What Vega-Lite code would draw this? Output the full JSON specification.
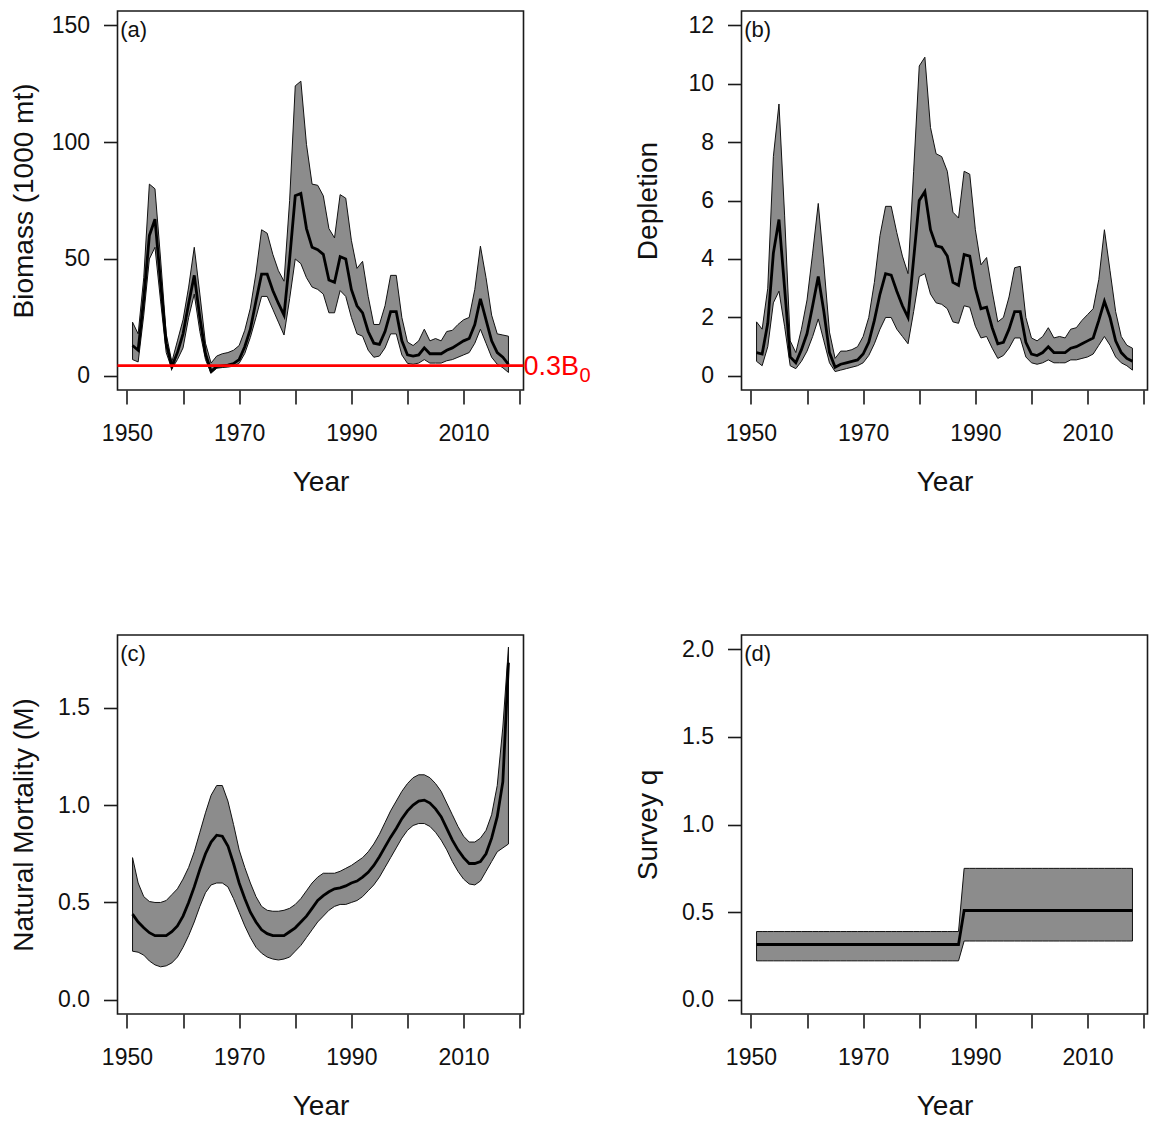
{
  "$schema": "https://vega.github.io/schema/vega-lite/v6.json",
  "background": "white",
  "padding": {"left": 9.5, "top": 10, "right": 5, "bottom": 5},
  "bounds": "flush",
  "columns": 2,
  "spacing": {"row": 245, "column": 218},
  "config": {
    "font": "Liberation Sans",
    "view": {"stroke": "#1a1a1a", "strokeWidth": 1.6},
    "axis": {"grid": false, "domain": false, "tickColor": "#1a1a1a", "tickWidth": 1.6, "tickSize": 14,
      "labelFont": "Liberation Sans", "labelFontSize": 23, "labelColor": "#111",
      "titleFont": "Liberation Sans", "titleFontSize": 28, "titleFontWeight": "normal", "titleColor": "#111"},
    "axisX": {"labelPadding": 18, "labelFlush": false, "labelOverlap": false, "titleY": 92, "titleBaseline": "middle"},
    "axisY": {"labelPadding": 14, "titleX": -93, "titleBaseline": "middle", "labelOverlap": false}
  },
  "datasets": {
    "a": [
      {"yr":1951,"lo":7,"med":13,"hi":23},{"yr":1952,"lo":6,"med":11,"hi":18},{"yr":1953,"lo":26,"med":33,"hi":42},
      {"yr":1954,"lo":50,"med":60,"hi":82},{"yr":1955,"lo":55,"med":67,"hi":80},{"yr":1956,"lo":32,"med":40,"hi":50},
      {"yr":1957,"lo":10,"med":14,"hi":18},{"yr":1958,"lo":3,"med":4,"hi":6},{"yr":1959,"lo":7,"med":10,"hi":15},
      {"yr":1960,"lo":12,"med":18,"hi":24},{"yr":1961,"lo":25,"med":31,"hi":38},{"yr":1962,"lo":35,"med":43,"hi":55},
      {"yr":1963,"lo":19,"med":25,"hi":35},{"yr":1964,"lo":7,"med":9.5,"hi":14},{"yr":1965,"lo":1.2,"med":2,"hi":5.5},
      {"yr":1966,"lo":3.3,"med":4,"hi":8.5},{"yr":1967,"lo":3.6,"med":4.3,"hi":9.5},{"yr":1968,"lo":3.8,"med":4.6,"hi":10},
      {"yr":1969,"lo":4.2,"med":5.3,"hi":11},{"yr":1970,"lo":5.4,"med":7,"hi":13},{"yr":1971,"lo":9.6,"med":12.5,"hi":19.5},
      {"yr":1972,"lo":16.5,"med":20,"hi":29},{"yr":1973,"lo":25,"med":32,"hi":44},{"yr":1974,"lo":34,"med":43.5,"hi":62.5},
      {"yr":1975,"lo":34,"med":43.5,"hi":61},{"yr":1976,"lo":28.5,"med":36.5,"hi":52},{"yr":1977,"lo":23,"med":31,"hi":45},
      {"yr":1978,"lo":17.5,"med":26,"hi":40.5},{"yr":1979,"lo":33,"med":50,"hi":75},{"yr":1980,"lo":50,"med":77,"hi":124},
      {"yr":1981,"lo":48,"med":78,"hi":126},{"yr":1982,"lo":42,"med":63,"hi":99},{"yr":1983,"lo":38,"med":55,"hi":82},
      {"yr":1984,"lo":37,"med":54,"hi":81.5},{"yr":1985,"lo":35,"med":52,"hi":77},{"yr":1986,"lo":27,"med":41,"hi":63},
      {"yr":1987,"lo":27,"med":40,"hi":59},{"yr":1988,"lo":36.5,"med":51,"hi":77.5},{"yr":1989,"lo":34,"med":50,"hi":76},
      {"yr":1990,"lo":25,"med":37,"hi":58},{"yr":1991,"lo":18,"med":30,"hi":46},{"yr":1992,"lo":17,"med":27,"hi":49},
      {"yr":1993,"lo":11,"med":19,"hi":34},{"yr":1994,"lo":8,"med":14,"hi":22},{"yr":1995,"lo":8.5,"med":13.5,"hi":22},
      {"yr":1996,"lo":12,"med":19,"hi":30},{"yr":1997,"lo":18,"med":27.5,"hi":43},{"yr":1998,"lo":18,"med":27.5,"hi":43},
      {"yr":1999,"lo":9,"med":15,"hi":25},{"yr":2000,"lo":5.4,"med":9,"hi":14.5},{"yr":2001,"lo":5,"med":8.5,"hi":13},
      {"yr":2002,"lo":5.5,"med":9,"hi":15},{"yr":2003,"lo":7,"med":12,"hi":20},{"yr":2004,"lo":5.5,"med":9.5,"hi":15},
      {"yr":2005,"lo":5.5,"med":9.5,"hi":16},{"yr":2006,"lo":5.5,"med":9.5,"hi":15},{"yr":2007,"lo":6.5,"med":11,"hi":19},
      {"yr":2008,"lo":7,"med":12,"hi":19.5},{"yr":2009,"lo":8,"med":13.5,"hi":22},{"yr":2010,"lo":9,"med":15,"hi":24},
      {"yr":2011,"lo":10,"med":16,"hi":25},{"yr":2012,"lo":14,"med":22,"hi":37},{"yr":2013,"lo":20,"med":33,"hi":55.5},
      {"yr":2014,"lo":14,"med":24,"hi":42},{"yr":2015,"lo":8,"med":15,"hi":26},{"yr":2016,"lo":5,"med":10,"hi":18},
      {"yr":2017,"lo":3.5,"med":8,"hi":17.5},{"yr":2018,"lo":1.5,"med":5,"hi":17}
    ],
    "b": [
      {"yr":1951,"lo":0.5,"med":0.8,"hi":1.85},{"yr":1952,"lo":0.35,"med":0.75,"hi":1.6},{"yr":1953,"lo":1.0,"med":1.8,"hi":3.0},
      {"yr":1954,"lo":2.5,"med":4.2,"hi":7.5},{"yr":1955,"lo":2.9,"med":5.35,"hi":9.3},{"yr":1956,"lo":1.7,"med":3.0,"hi":5.5},
      {"yr":1957,"lo":0.35,"med":0.65,"hi":1.2},{"yr":1958,"lo":0.25,"med":0.45,"hi":0.8},{"yr":1959,"lo":0.5,"med":0.9,"hi":1.6},
      {"yr":1960,"lo":0.85,"med":1.45,"hi":2.6},{"yr":1961,"lo":1.35,"med":2.4,"hi":4.2},{"yr":1962,"lo":1.95,"med":3.4,"hi":5.9},
      {"yr":1963,"lo":1.2,"med":2.2,"hi":3.8},{"yr":1964,"lo":0.45,"med":0.8,"hi":1.5},{"yr":1965,"lo":0.15,"med":0.3,"hi":0.6},
      {"yr":1966,"lo":0.2,"med":0.4,"hi":0.85},{"yr":1967,"lo":0.25,"med":0.45,"hi":0.85},{"yr":1968,"lo":0.3,"med":0.5,"hi":0.9},
      {"yr":1969,"lo":0.35,"med":0.55,"hi":1.0},{"yr":1970,"lo":0.45,"med":0.75,"hi":1.35},{"yr":1971,"lo":0.7,"med":1.15,"hi":2.0},
      {"yr":1972,"lo":1.1,"med":1.9,"hi":3.2},{"yr":1973,"lo":1.6,"med":2.8,"hi":4.8},{"yr":1974,"lo":2.0,"med":3.5,"hi":5.8},
      {"yr":1975,"lo":2.0,"med":3.45,"hi":5.8},{"yr":1976,"lo":1.6,"med":2.9,"hi":4.9},{"yr":1977,"lo":1.35,"med":2.4,"hi":4.1},
      {"yr":1978,"lo":1.1,"med":2.0,"hi":3.5},{"yr":1979,"lo":2.2,"med":4.0,"hi":7.0},{"yr":1980,"lo":3.4,"med":6.0,"hi":10.6},
      {"yr":1981,"lo":3.5,"med":6.3,"hi":10.9},{"yr":1982,"lo":2.8,"med":5.0,"hi":8.5},{"yr":1983,"lo":2.5,"med":4.45,"hi":7.6},
      {"yr":1984,"lo":2.45,"med":4.4,"hi":7.5},{"yr":1985,"lo":2.3,"med":4.1,"hi":7.0},{"yr":1986,"lo":1.85,"med":3.2,"hi":5.6},
      {"yr":1987,"lo":1.8,"med":3.1,"hi":5.4},{"yr":1988,"lo":2.4,"med":4.15,"hi":7.0},{"yr":1989,"lo":2.35,"med":4.1,"hi":6.9},
      {"yr":1990,"lo":1.7,"med":3.0,"hi":5.0},{"yr":1991,"lo":1.3,"med":2.3,"hi":3.8},{"yr":1992,"lo":1.35,"med":2.35,"hi":4.05},
      {"yr":1993,"lo":0.95,"med":1.65,"hi":2.9},{"yr":1994,"lo":0.6,"med":1.1,"hi":1.85},{"yr":1995,"lo":0.7,"med":1.15,"hi":2.0},
      {"yr":1996,"lo":0.95,"med":1.6,"hi":2.7},{"yr":1997,"lo":1.3,"med":2.2,"hi":3.7},{"yr":1998,"lo":1.3,"med":2.2,"hi":3.75},
      {"yr":1999,"lo":0.65,"med":1.15,"hi":2.0},{"yr":2000,"lo":0.45,"med":0.75,"hi":1.3},{"yr":2001,"lo":0.4,"med":0.7,"hi":1.2},
      {"yr":2002,"lo":0.45,"med":0.8,"hi":1.35},{"yr":2003,"lo":0.55,"med":1.0,"hi":1.65},{"yr":2004,"lo":0.45,"med":0.8,"hi":1.3},
      {"yr":2005,"lo":0.45,"med":0.8,"hi":1.35},{"yr":2006,"lo":0.45,"med":0.8,"hi":1.3},{"yr":2007,"lo":0.55,"med":0.95,"hi":1.6},
      {"yr":2008,"lo":0.55,"med":1.0,"hi":1.65},{"yr":2009,"lo":0.6,"med":1.1,"hi":1.9},{"yr":2010,"lo":0.65,"med":1.2,"hi":2.1},
      {"yr":2011,"lo":0.75,"med":1.3,"hi":2.3},{"yr":2012,"lo":1.05,"med":1.9,"hi":3.3},{"yr":2013,"lo":1.35,"med":2.55,"hi":5.0},
      {"yr":2014,"lo":1.05,"med":2.0,"hi":3.6},{"yr":2015,"lo":0.65,"med":1.2,"hi":2.2},{"yr":2016,"lo":0.45,"med":0.8,"hi":1.35},
      {"yr":2017,"lo":0.35,"med":0.6,"hi":1.05},{"yr":2018,"lo":0.2,"med":0.5,"hi":0.95}
    ],
    "c": [
      {"yr":1951,"lo":0.25,"med":0.44,"hi":0.73},{"yr":1952,"lo":0.245,"med":0.40,"hi":0.60},{"yr":1953,"lo":0.23,"med":0.37,"hi":0.53},
      {"yr":1954,"lo":0.20,"med":0.345,"hi":0.505},{"yr":1955,"lo":0.18,"med":0.33,"hi":0.50},{"yr":1956,"lo":0.17,"med":0.33,"hi":0.50},
      {"yr":1957,"lo":0.175,"med":0.33,"hi":0.51},{"yr":1958,"lo":0.19,"med":0.35,"hi":0.54},{"yr":1959,"lo":0.22,"med":0.38,"hi":0.57},
      {"yr":1960,"lo":0.27,"med":0.43,"hi":0.62},{"yr":1961,"lo":0.33,"med":0.50,"hi":0.68},{"yr":1962,"lo":0.40,"med":0.58,"hi":0.76},
      {"yr":1963,"lo":0.48,"med":0.67,"hi":0.86},{"yr":1964,"lo":0.55,"med":0.75,"hi":0.96},{"yr":1965,"lo":0.59,"med":0.81,"hi":1.05},
      {"yr":1966,"lo":0.60,"med":0.845,"hi":1.10},{"yr":1967,"lo":0.60,"med":0.84,"hi":1.10},{"yr":1968,"lo":0.58,"med":0.79,"hi":1.02},
      {"yr":1969,"lo":0.52,"med":0.70,"hi":0.90},{"yr":1970,"lo":0.45,"med":0.60,"hi":0.77},{"yr":1971,"lo":0.38,"med":0.52,"hi":0.68},
      {"yr":1972,"lo":0.32,"med":0.45,"hi":0.60},{"yr":1973,"lo":0.27,"med":0.40,"hi":0.53},{"yr":1974,"lo":0.24,"med":0.36,"hi":0.48},
      {"yr":1975,"lo":0.22,"med":0.34,"hi":0.46},{"yr":1976,"lo":0.21,"med":0.33,"hi":0.455},{"yr":1977,"lo":0.205,"med":0.33,"hi":0.455},
      {"yr":1978,"lo":0.21,"med":0.33,"hi":0.46},{"yr":1979,"lo":0.22,"med":0.35,"hi":0.47},{"yr":1980,"lo":0.25,"med":0.37,"hi":0.49},
      {"yr":1981,"lo":0.28,"med":0.40,"hi":0.52},{"yr":1982,"lo":0.32,"med":0.43,"hi":0.56},{"yr":1983,"lo":0.36,"med":0.47,"hi":0.60},
      {"yr":1984,"lo":0.40,"med":0.51,"hi":0.63},{"yr":1985,"lo":0.43,"med":0.535,"hi":0.65},{"yr":1986,"lo":0.46,"med":0.555,"hi":0.65},
      {"yr":1987,"lo":0.48,"med":0.57,"hi":0.65},{"yr":1988,"lo":0.49,"med":0.575,"hi":0.66},{"yr":1989,"lo":0.49,"med":0.585,"hi":0.675},
      {"yr":1990,"lo":0.50,"med":0.60,"hi":0.69},{"yr":1991,"lo":0.51,"med":0.61,"hi":0.71},{"yr":1992,"lo":0.53,"med":0.63,"hi":0.73},
      {"yr":1993,"lo":0.56,"med":0.655,"hi":0.76},{"yr":1994,"lo":0.59,"med":0.69,"hi":0.80},{"yr":1995,"lo":0.63,"med":0.735,"hi":0.85},
      {"yr":1996,"lo":0.68,"med":0.785,"hi":0.91},{"yr":1997,"lo":0.73,"med":0.835,"hi":0.97},{"yr":1998,"lo":0.78,"med":0.88,"hi":1.02},
      {"yr":1999,"lo":0.83,"med":0.93,"hi":1.07},{"yr":2000,"lo":0.87,"med":0.97,"hi":1.11},{"yr":2001,"lo":0.895,"med":1.00,"hi":1.14},
      {"yr":2002,"lo":0.905,"med":1.02,"hi":1.155},{"yr":2003,"lo":0.905,"med":1.025,"hi":1.155},{"yr":2004,"lo":0.89,"med":1.01,"hi":1.14},
      {"yr":2005,"lo":0.86,"med":0.98,"hi":1.11},{"yr":2006,"lo":0.82,"med":0.94,"hi":1.07},{"yr":2007,"lo":0.77,"med":0.88,"hi":1.01},
      {"yr":2008,"lo":0.71,"med":0.82,"hi":0.95},{"yr":2009,"lo":0.66,"med":0.77,"hi":0.89},{"yr":2010,"lo":0.62,"med":0.73,"hi":0.84},
      {"yr":2011,"lo":0.595,"med":0.70,"hi":0.81},{"yr":2012,"lo":0.59,"med":0.70,"hi":0.81},{"yr":2013,"lo":0.61,"med":0.71,"hi":0.83},
      {"yr":2014,"lo":0.66,"med":0.75,"hi":0.87},{"yr":2015,"lo":0.71,"med":0.83,"hi":0.95},{"yr":2016,"lo":0.76,"med":0.94,"hi":1.10},
      {"yr":2017,"lo":0.78,"med":1.12,"hi":1.40},{"yr":2018,"lo":0.80,"med":1.73,"hi":1.81}
    ],
    "d": [
      {"yr":1951,"lo":0.223,"med":0.316,"hi":0.39},{"yr":1952,"lo":0.223,"med":0.316,"hi":0.39},{"yr":1953,"lo":0.223,"med":0.316,"hi":0.39},
      {"yr":1954,"lo":0.223,"med":0.316,"hi":0.39},{"yr":1955,"lo":0.223,"med":0.316,"hi":0.39},{"yr":1956,"lo":0.223,"med":0.316,"hi":0.39},
      {"yr":1957,"lo":0.223,"med":0.316,"hi":0.39},{"yr":1958,"lo":0.223,"med":0.316,"hi":0.39},{"yr":1959,"lo":0.223,"med":0.316,"hi":0.39},
      {"yr":1960,"lo":0.223,"med":0.316,"hi":0.39},{"yr":1961,"lo":0.223,"med":0.316,"hi":0.39},{"yr":1962,"lo":0.223,"med":0.316,"hi":0.39},
      {"yr":1963,"lo":0.223,"med":0.316,"hi":0.39},{"yr":1964,"lo":0.223,"med":0.316,"hi":0.39},{"yr":1965,"lo":0.223,"med":0.316,"hi":0.39},
      {"yr":1966,"lo":0.223,"med":0.316,"hi":0.39},{"yr":1967,"lo":0.223,"med":0.316,"hi":0.39},{"yr":1968,"lo":0.223,"med":0.316,"hi":0.39},
      {"yr":1969,"lo":0.223,"med":0.316,"hi":0.39},{"yr":1970,"lo":0.223,"med":0.316,"hi":0.39},{"yr":1971,"lo":0.223,"med":0.316,"hi":0.39},
      {"yr":1972,"lo":0.223,"med":0.316,"hi":0.39},{"yr":1973,"lo":0.223,"med":0.316,"hi":0.39},{"yr":1974,"lo":0.223,"med":0.316,"hi":0.39},
      {"yr":1975,"lo":0.223,"med":0.316,"hi":0.39},{"yr":1976,"lo":0.223,"med":0.316,"hi":0.39},{"yr":1977,"lo":0.223,"med":0.316,"hi":0.39},
      {"yr":1978,"lo":0.223,"med":0.316,"hi":0.39},{"yr":1979,"lo":0.223,"med":0.316,"hi":0.39},{"yr":1980,"lo":0.223,"med":0.316,"hi":0.39},
      {"yr":1981,"lo":0.223,"med":0.316,"hi":0.39},{"yr":1982,"lo":0.223,"med":0.316,"hi":0.39},{"yr":1983,"lo":0.223,"med":0.316,"hi":0.39},
      {"yr":1984,"lo":0.223,"med":0.316,"hi":0.39},{"yr":1985,"lo":0.223,"med":0.316,"hi":0.39},{"yr":1986,"lo":0.223,"med":0.316,"hi":0.39},
      {"yr":1987,"lo":0.223,"med":0.316,"hi":0.39},{"yr":1988,"lo":0.336,"med":0.51,"hi":0.75},{"yr":1989,"lo":0.336,"med":0.51,"hi":0.75},
      {"yr":1990,"lo":0.336,"med":0.51,"hi":0.75},{"yr":1991,"lo":0.336,"med":0.51,"hi":0.75},{"yr":1992,"lo":0.336,"med":0.51,"hi":0.75},
      {"yr":1993,"lo":0.336,"med":0.51,"hi":0.75},{"yr":1994,"lo":0.336,"med":0.51,"hi":0.75},{"yr":1995,"lo":0.336,"med":0.51,"hi":0.75},
      {"yr":1996,"lo":0.336,"med":0.51,"hi":0.75},{"yr":1997,"lo":0.336,"med":0.51,"hi":0.75},{"yr":1998,"lo":0.336,"med":0.51,"hi":0.75},
      {"yr":1999,"lo":0.336,"med":0.51,"hi":0.75},{"yr":2000,"lo":0.336,"med":0.51,"hi":0.75},{"yr":2001,"lo":0.336,"med":0.51,"hi":0.75},
      {"yr":2002,"lo":0.336,"med":0.51,"hi":0.75},{"yr":2003,"lo":0.336,"med":0.51,"hi":0.75},{"yr":2004,"lo":0.336,"med":0.51,"hi":0.75},
      {"yr":2005,"lo":0.336,"med":0.51,"hi":0.75},{"yr":2006,"lo":0.336,"med":0.51,"hi":0.75},{"yr":2007,"lo":0.336,"med":0.51,"hi":0.75},
      {"yr":2008,"lo":0.336,"med":0.51,"hi":0.75},{"yr":2009,"lo":0.336,"med":0.51,"hi":0.75},{"yr":2010,"lo":0.336,"med":0.51,"hi":0.75},
      {"yr":2011,"lo":0.336,"med":0.51,"hi":0.75},{"yr":2012,"lo":0.336,"med":0.51,"hi":0.75},{"yr":2013,"lo":0.336,"med":0.51,"hi":0.75},
      {"yr":2014,"lo":0.336,"med":0.51,"hi":0.75},{"yr":2015,"lo":0.336,"med":0.51,"hi":0.75},{"yr":2016,"lo":0.336,"med":0.51,"hi":0.75},
      {"yr":2017,"lo":0.336,"med":0.51,"hi":0.75},{"yr":2018,"lo":0.336,"med":0.51,"hi":0.75}
    ]
  },
  "concat": [
    {
      "width": 406, "height": 379,
      "layer": [
        {"data": {"name": "a"}, "mark": {"type": "area", "fill": "#8c8c8c", "stroke": "#111", "strokeWidth": 1},
         "encoding": {
           "x": {"field": "yr", "type": "quantitative", "scale": {"domain": [1948.32, 2020.68], "nice": false, "zero": false},
                 "axis": {"title": "Year", "values": [1950,1960,1970,1980,1990,2000,2010,2020], "format": "d", "labelExpr": "datum.value % 20 == 10 ? datum.label : ''"}},
           "y": {"field": "lo", "type": "quantitative", "scale": {"domain": [-6, 156], "nice": false, "zero": false},
                 "axis": {"title": "Biomass (1000 mt)", "values": [0, 50, 100, 150]}},
           "y2": {"field": "hi"}}},
        {"data": {"name": "a"}, "mark": {"type": "line", "color": "#000", "strokeWidth": 2.8},
         "encoding": {"x": {"field": "yr", "type": "quantitative"}, "y": {"field": "med", "type": "quantitative"}}},
        {"data": {"values": [{"ref": 4.4}]}, "mark": {"type": "rule", "color": "#ff0000", "strokeWidth": 2.6},
         "encoding": {"y": {"field": "ref", "type": "quantitative"}}},
        {"data": {"values": [{"ref": 4.4, "xr": 2020.68, "t": "0.3B"}]},
         "mark": {"type": "text", "color": "#ff0000", "fontSize": 27, "align": "left", "baseline": "middle", "dy": 1.5},
         "encoding": {"x": {"field": "xr", "type": "quantitative"}, "y": {"field": "ref", "type": "quantitative"}, "text": {"field": "t"}}},
        {"data": {"values": [{"ref": 4.4, "xr": 2020.68, "t": "0"}]},
         "mark": {"type": "text", "color": "#ff0000", "fontSize": 20, "align": "left", "baseline": "alphabetic", "dx": 56, "dy": 16.5},
         "encoding": {"x": {"field": "xr", "type": "quantitative"}, "y": {"field": "ref", "type": "quantitative"}, "text": {"field": "t"}}},
        {"data": {"values": [{"xl": 1948.8, "yl": 156, "t": "(a)"}]},
         "mark": {"type": "text", "color": "#111", "fontSize": 22, "align": "left", "baseline": "alphabetic", "dy": 26},
         "encoding": {"x": {"field": "xl", "type": "quantitative"}, "y": {"field": "yl", "type": "quantitative"}, "text": {"field": "t"}}}
      ]
    },
    {
      "width": 406, "height": 379,
      "layer": [
        {"data": {"name": "b"}, "mark": {"type": "area", "fill": "#8c8c8c", "stroke": "#111", "strokeWidth": 1},
         "encoding": {
           "x": {"field": "yr", "type": "quantitative", "scale": {"domain": [1948.32, 2020.68], "nice": false, "zero": false},
                 "axis": {"title": "Year", "values": [1950,1960,1970,1980,1990,2000,2010,2020], "format": "d", "labelExpr": "datum.value % 20 == 10 ? datum.label : ''"}},
           "y": {"field": "lo", "type": "quantitative", "scale": {"domain": [-0.48, 12.48], "nice": false, "zero": false},
                 "axis": {"title": "Depletion", "values": [0, 2, 4, 6, 8, 10, 12]}},
           "y2": {"field": "hi"}}},
        {"data": {"name": "b"}, "mark": {"type": "line", "color": "#000", "strokeWidth": 2.8},
         "encoding": {"x": {"field": "yr", "type": "quantitative"}, "y": {"field": "med", "type": "quantitative"}}},
        {"data": {"values": [{"xl": 1948.8, "yl": 12.48, "t": "(b)"}]},
         "mark": {"type": "text", "color": "#111", "fontSize": 22, "align": "left", "baseline": "alphabetic", "dy": 26},
         "encoding": {"x": {"field": "xl", "type": "quantitative"}, "y": {"field": "yl", "type": "quantitative"}, "text": {"field": "t"}}}
      ]
    },
    {
      "width": 406, "height": 379,
      "layer": [
        {"data": {"name": "c"}, "mark": {"type": "area", "fill": "#8c8c8c", "stroke": "#111", "strokeWidth": 1},
         "encoding": {
           "x": {"field": "yr", "type": "quantitative", "scale": {"domain": [1948.32, 2020.68], "nice": false, "zero": false},
                 "axis": {"title": "Year", "values": [1950,1960,1970,1980,1990,2000,2010,2020], "format": "d", "labelExpr": "datum.value % 20 == 10 ? datum.label : ''"}},
           "y": {"field": "lo", "type": "quantitative", "scale": {"domain": [-0.072, 1.872], "nice": false, "zero": false},
                 "axis": {"title": "Natural Mortality (M)", "values": [0, 0.5, 1, 1.5], "format": ".1f"}},
           "y2": {"field": "hi"}}},
        {"data": {"name": "c"}, "mark": {"type": "line", "color": "#000", "strokeWidth": 2.8},
         "encoding": {"x": {"field": "yr", "type": "quantitative"}, "y": {"field": "med", "type": "quantitative"}}},
        {"data": {"values": [{"xl": 1948.8, "yl": 1.872, "t": "(c)"}]},
         "mark": {"type": "text", "color": "#111", "fontSize": 22, "align": "left", "baseline": "alphabetic", "dy": 26},
         "encoding": {"x": {"field": "xl", "type": "quantitative"}, "y": {"field": "yl", "type": "quantitative"}, "text": {"field": "t"}}}
      ]
    },
    {
      "width": 406, "height": 379,
      "layer": [
        {"data": {"name": "d"}, "mark": {"type": "area", "fill": "#8c8c8c", "stroke": "#111", "strokeWidth": 1},
         "encoding": {
           "x": {"field": "yr", "type": "quantitative", "scale": {"domain": [1948.32, 2020.68], "nice": false, "zero": false},
                 "axis": {"title": "Year", "values": [1950,1960,1970,1980,1990,2000,2010,2020], "format": "d", "labelExpr": "datum.value % 20 == 10 ? datum.label : ''"}},
           "y": {"field": "lo", "type": "quantitative", "scale": {"domain": [-0.08, 2.08], "nice": false, "zero": false},
                 "axis": {"title": "Survey q", "values": [0, 0.5, 1, 1.5, 2], "format": ".1f"}},
           "y2": {"field": "hi"}}},
        {"data": {"name": "d"}, "mark": {"type": "line", "color": "#000", "strokeWidth": 2.8},
         "encoding": {"x": {"field": "yr", "type": "quantitative"}, "y": {"field": "med", "type": "quantitative"}}},
        {"data": {"values": [{"xl": 1948.8, "yl": 2.08, "t": "(d)"}]},
         "mark": {"type": "text", "color": "#111", "fontSize": 22, "align": "left", "baseline": "alphabetic", "dy": 26},
         "encoding": {"x": {"field": "xl", "type": "quantitative"}, "y": {"field": "yl", "type": "quantitative"}, "text": {"field": "t"}}}
      ]
    }
  ]
}
